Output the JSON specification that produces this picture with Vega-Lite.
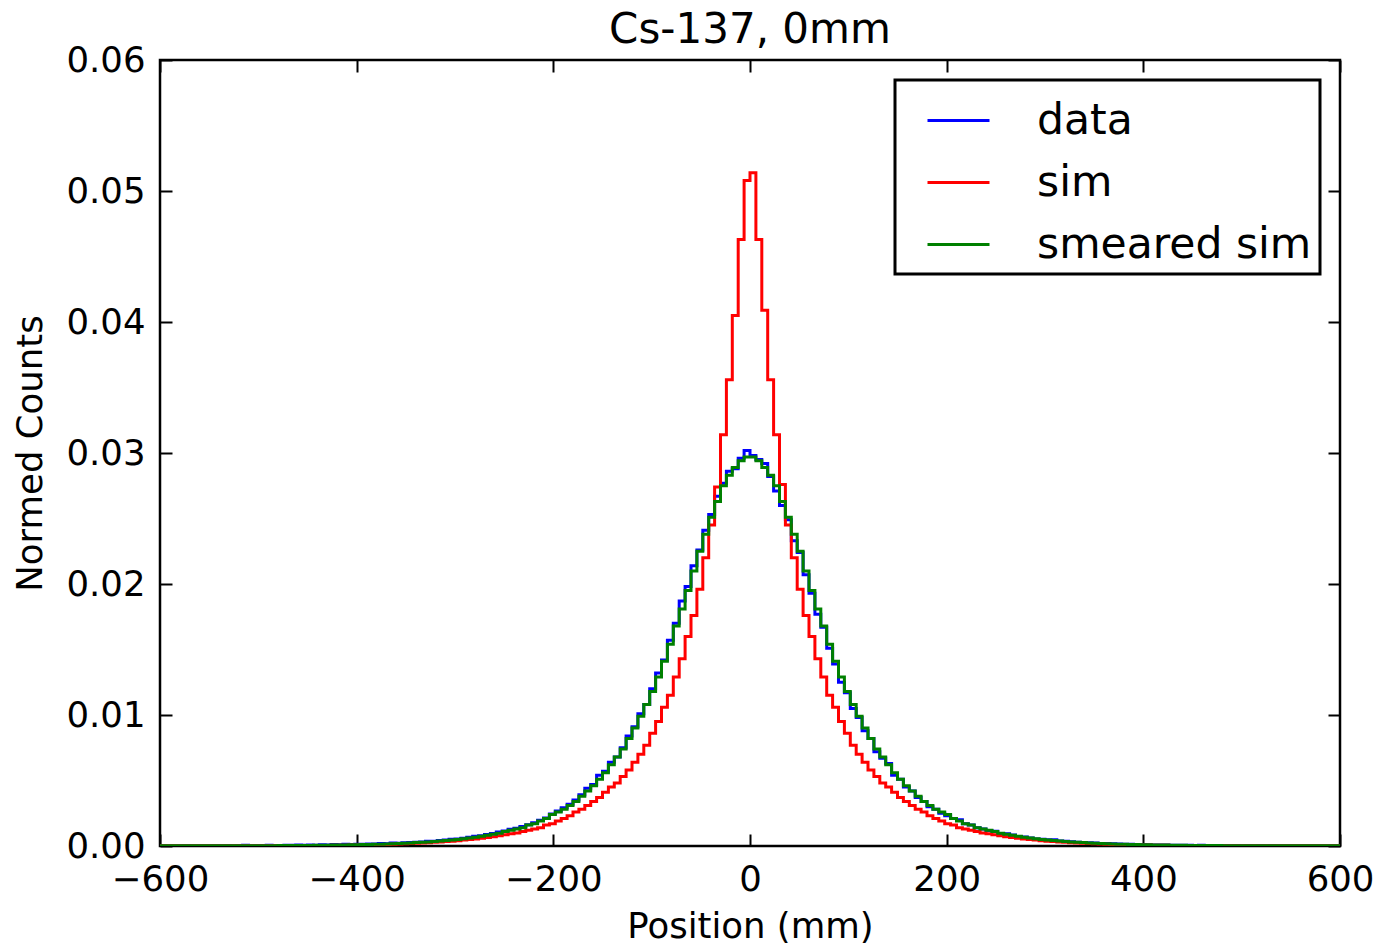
{
  "$schema": "https://vega.github.io/schema/vega-lite/v6.json",
  "width": 1180,
  "height": 786,
  "autosize": {"type": "none"},
  "padding": {"left": 160, "top": 60, "right": 38, "bottom": 100},
  "background": "white",
  "title": {"text": "Cs-137, 0mm", "fontSize": 42, "font": "DejaVu Sans", "fontWeight": "normal", "color": "black", "baseline": "alphabetic", "offset": 16, "dy": 58},
  "config": {
    "font": "DejaVu Sans",
    "view": {"stroke": "black", "strokeWidth": 2.5},
    "legend": {
      "orient": "top-right", "offset": 20, "symbolType": "stroke", "symbolSize": 3844, "symbolStrokeWidth": 3,
      "labelFontSize": 42.5, "labelFont": "DejaVu Sans", "labelColor": "black", "strokeColor": "black", "strokeWidth": 3,
      "fillColor": "white", "padding": 8, "symbolOffset": 23, "labelOffset": 46, "rowPadding": 8, "labelLimit": 800, "cornerRadius": 0
    }
  },
  "data": {"values": [
    {"x": -600, "data": 0.00001, "sim": 0.00001, "smeared sim": 0.00001},
    {"x": -594, "data": 0.0, "sim": 0.00001, "smeared sim": 0.00001},
    {"x": -588, "data": 0.00002, "sim": 0.00001, "smeared sim": 0.00001},
    {"x": -582, "data": 0.00001, "sim": 0.00001, "smeared sim": 0.00001},
    {"x": -576, "data": 0.00003, "sim": 0.00001, "smeared sim": 0.00001},
    {"x": -570, "data": 0.00001, "sim": 0.00001, "smeared sim": 0.00001},
    {"x": -564, "data": 0.00002, "sim": 0.00001, "smeared sim": 0.00001},
    {"x": -558, "data": 0.00002, "sim": 0.00001, "smeared sim": 0.00001},
    {"x": -552, "data": 0.00001, "sim": 0.00001, "smeared sim": 0.00001},
    {"x": -546, "data": 0.00003, "sim": 0.00001, "smeared sim": 0.00001},
    {"x": -540, "data": 0.00002, "sim": 0.00002, "smeared sim": 0.00002},
    {"x": -534, "data": 0.00004, "sim": 0.00002, "smeared sim": 0.00002},
    {"x": -528, "data": 0.00002, "sim": 0.00002, "smeared sim": 0.00002},
    {"x": -522, "data": 0.00003, "sim": 0.00002, "smeared sim": 0.00002},
    {"x": -516, "data": 0.00005, "sim": 0.00002, "smeared sim": 0.00002},
    {"x": -510, "data": 0.00002, "sim": 0.00002, "smeared sim": 0.00002},
    {"x": -504, "data": 0.00004, "sim": 0.00002, "smeared sim": 0.00002},
    {"x": -498, "data": 0.00003, "sim": 0.00002, "smeared sim": 0.00002},
    {"x": -492, "data": 0.00006, "sim": 0.00002, "smeared sim": 0.00002},
    {"x": -486, "data": 0.00004, "sim": 0.00002, "smeared sim": 0.00002},
    {"x": -480, "data": 0.00004, "sim": 0.00003, "smeared sim": 0.00003},
    {"x": -474, "data": 0.00006, "sim": 0.00003, "smeared sim": 0.00003},
    {"x": -468, "data": 0.00005, "sim": 0.00003, "smeared sim": 0.00003},
    {"x": -462, "data": 0.00007, "sim": 0.00003, "smeared sim": 0.00004},
    {"x": -456, "data": 0.00005, "sim": 0.00003, "smeared sim": 0.00004},
    {"x": -450, "data": 0.00008, "sim": 0.00003, "smeared sim": 0.00004},
    {"x": -444, "data": 0.00006, "sim": 0.00004, "smeared sim": 0.00005},
    {"x": -438, "data": 0.00009, "sim": 0.00004, "smeared sim": 0.00005},
    {"x": -432, "data": 0.00007, "sim": 0.00004, "smeared sim": 0.00006},
    {"x": -426, "data": 0.00011, "sim": 0.00005, "smeared sim": 0.00007},
    {"x": -420, "data": 0.00009, "sim": 0.00005, "smeared sim": 0.00007},
    {"x": -414, "data": 0.00013, "sim": 0.00006, "smeared sim": 0.00008},
    {"x": -408, "data": 0.00012, "sim": 0.00007, "smeared sim": 0.00009},
    {"x": -402, "data": 0.00014, "sim": 0.00007, "smeared sim": 0.0001},
    {"x": -396, "data": 0.00013, "sim": 0.00008, "smeared sim": 0.00011},
    {"x": -390, "data": 0.00016, "sim": 0.00009, "smeared sim": 0.00012},
    {"x": -384, "data": 0.00015, "sim": 0.0001, "smeared sim": 0.00013},
    {"x": -378, "data": 0.00019, "sim": 0.00011, "smeared sim": 0.00014},
    {"x": -372, "data": 0.00018, "sim": 0.00012, "smeared sim": 0.00016},
    {"x": -366, "data": 0.00022, "sim": 0.00013, "smeared sim": 0.00017},
    {"x": -360, "data": 0.00021, "sim": 0.00015, "smeared sim": 0.00019},
    {"x": -354, "data": 0.00025, "sim": 0.00017, "smeared sim": 0.00021},
    {"x": -348, "data": 0.00026, "sim": 0.00019, "smeared sim": 0.00023},
    {"x": -342, "data": 0.00029, "sim": 0.00021, "smeared sim": 0.00026},
    {"x": -336, "data": 0.00031, "sim": 0.00023, "smeared sim": 0.00028},
    {"x": -330, "data": 0.00036, "sim": 0.00025, "smeared sim": 0.00031},
    {"x": -324, "data": 0.00037, "sim": 0.00028, "smeared sim": 0.00034},
    {"x": -318, "data": 0.00042, "sim": 0.00031, "smeared sim": 0.00038},
    {"x": -312, "data": 0.00045, "sim": 0.00034, "smeared sim": 0.00042},
    {"x": -306, "data": 0.00051, "sim": 0.00037, "smeared sim": 0.00046},
    {"x": -300, "data": 0.00053, "sim": 0.00041, "smeared sim": 0.0005},
    {"x": -294, "data": 0.0006, "sim": 0.00045, "smeared sim": 0.00055},
    {"x": -288, "data": 0.00066, "sim": 0.00049, "smeared sim": 0.00061},
    {"x": -282, "data": 0.00074, "sim": 0.00054, "smeared sim": 0.00067},
    {"x": -276, "data": 0.00078, "sim": 0.00059, "smeared sim": 0.00074},
    {"x": -270, "data": 0.00088, "sim": 0.00065, "smeared sim": 0.00082},
    {"x": -264, "data": 0.00095, "sim": 0.00071, "smeared sim": 0.0009},
    {"x": -258, "data": 0.00106, "sim": 0.00078, "smeared sim": 0.00098},
    {"x": -252, "data": 0.00115, "sim": 0.00085, "smeared sim": 0.0011},
    {"x": -246, "data": 0.00127, "sim": 0.00093, "smeared sim": 0.0012},
    {"x": -240, "data": 0.00136, "sim": 0.001, "smeared sim": 0.0013},
    {"x": -234, "data": 0.00148, "sim": 0.0011, "smeared sim": 0.0014},
    {"x": -228, "data": 0.00163, "sim": 0.0012, "smeared sim": 0.0016},
    {"x": -222, "data": 0.00178, "sim": 0.0013, "smeared sim": 0.0017},
    {"x": -216, "data": 0.00196, "sim": 0.0014, "smeared sim": 0.0019},
    {"x": -210, "data": 0.00214, "sim": 0.0016, "smeared sim": 0.0021},
    {"x": -204, "data": 0.00245, "sim": 0.0017, "smeared sim": 0.0024},
    {"x": -198, "data": 0.00268, "sim": 0.0019, "smeared sim": 0.0026},
    {"x": -192, "data": 0.00292, "sim": 0.0021, "smeared sim": 0.0028},
    {"x": -186, "data": 0.00318, "sim": 0.0023, "smeared sim": 0.0031},
    {"x": -180, "data": 0.00352, "sim": 0.0026, "smeared sim": 0.0034},
    {"x": -174, "data": 0.00392, "sim": 0.0028, "smeared sim": 0.0038},
    {"x": -168, "data": 0.0044, "sim": 0.0031, "smeared sim": 0.0042},
    {"x": -162, "data": 0.0047, "sim": 0.0034, "smeared sim": 0.0046},
    {"x": -156, "data": 0.0054, "sim": 0.0037, "smeared sim": 0.0051},
    {"x": -150, "data": 0.0057, "sim": 0.0041, "smeared sim": 0.0056},
    {"x": -144, "data": 0.0064, "sim": 0.0045, "smeared sim": 0.0062},
    {"x": -138, "data": 0.0068, "sim": 0.0048, "smeared sim": 0.0068},
    {"x": -132, "data": 0.0075, "sim": 0.0053, "smeared sim": 0.0074},
    {"x": -126, "data": 0.0084, "sim": 0.0058, "smeared sim": 0.0082},
    {"x": -120, "data": 0.0091, "sim": 0.0064, "smeared sim": 0.009},
    {"x": -114, "data": 0.0101, "sim": 0.007, "smeared sim": 0.0099},
    {"x": -108, "data": 0.0108, "sim": 0.0077, "smeared sim": 0.0108},
    {"x": -102, "data": 0.012, "sim": 0.0086, "smeared sim": 0.0118},
    {"x": -96, "data": 0.0132, "sim": 0.0095, "smeared sim": 0.0129},
    {"x": -90, "data": 0.0142, "sim": 0.0106, "smeared sim": 0.0141},
    {"x": -84, "data": 0.0157, "sim": 0.0115, "smeared sim": 0.0154},
    {"x": -78, "data": 0.017, "sim": 0.0129, "smeared sim": 0.0168},
    {"x": -72, "data": 0.0187, "sim": 0.0143, "smeared sim": 0.0181},
    {"x": -66, "data": 0.0198, "sim": 0.016, "smeared sim": 0.0195},
    {"x": -60, "data": 0.0214, "sim": 0.0176, "smeared sim": 0.021},
    {"x": -54, "data": 0.0226, "sim": 0.0196, "smeared sim": 0.0225},
    {"x": -48, "data": 0.0241, "sim": 0.022, "smeared sim": 0.0238},
    {"x": -42, "data": 0.0253, "sim": 0.0245, "smeared sim": 0.0251},
    {"x": -36, "data": 0.0267, "sim": 0.0274, "smeared sim": 0.0263},
    {"x": -30, "data": 0.0277, "sim": 0.0314, "smeared sim": 0.0275},
    {"x": -24, "data": 0.0286, "sim": 0.0356, "smeared sim": 0.0283},
    {"x": -18, "data": 0.0288, "sim": 0.0405, "smeared sim": 0.0289},
    {"x": -12, "data": 0.0296, "sim": 0.0463, "smeared sim": 0.0294},
    {"x": -6, "data": 0.0302, "sim": 0.0508, "smeared sim": 0.0297},
    {"x": 0, "data": 0.0298, "sim": 0.0514, "smeared sim": 0.0297},
    {"x": 6, "data": 0.0295, "sim": 0.0463, "smeared sim": 0.0294},
    {"x": 12, "data": 0.0292, "sim": 0.0409, "smeared sim": 0.0289},
    {"x": 18, "data": 0.0282, "sim": 0.0356, "smeared sim": 0.0283},
    {"x": 24, "data": 0.0271, "sim": 0.0314, "smeared sim": 0.0275},
    {"x": 30, "data": 0.026, "sim": 0.0276, "smeared sim": 0.0263},
    {"x": 36, "data": 0.0249, "sim": 0.0245, "smeared sim": 0.0251},
    {"x": 42, "data": 0.0233, "sim": 0.022, "smeared sim": 0.0238},
    {"x": 48, "data": 0.0224, "sim": 0.0196, "smeared sim": 0.0225},
    {"x": 54, "data": 0.0207, "sim": 0.0176, "smeared sim": 0.021},
    {"x": 60, "data": 0.0193, "sim": 0.016, "smeared sim": 0.0195},
    {"x": 66, "data": 0.0177, "sim": 0.0143, "smeared sim": 0.0181},
    {"x": 72, "data": 0.0167, "sim": 0.0129, "smeared sim": 0.0168},
    {"x": 78, "data": 0.0151, "sim": 0.0115, "smeared sim": 0.0154},
    {"x": 84, "data": 0.0139, "sim": 0.0106, "smeared sim": 0.0141},
    {"x": 90, "data": 0.0125, "sim": 0.0095, "smeared sim": 0.0129},
    {"x": 96, "data": 0.0117, "sim": 0.0086, "smeared sim": 0.0118},
    {"x": 102, "data": 0.0105, "sim": 0.0077, "smeared sim": 0.0108},
    {"x": 108, "data": 0.0098, "sim": 0.007, "smeared sim": 0.0099},
    {"x": 114, "data": 0.0088, "sim": 0.0064, "smeared sim": 0.009},
    {"x": 120, "data": 0.0082, "sim": 0.0058, "smeared sim": 0.0082},
    {"x": 126, "data": 0.0072, "sim": 0.0053, "smeared sim": 0.0074},
    {"x": 132, "data": 0.0067, "sim": 0.0048, "smeared sim": 0.0068},
    {"x": 138, "data": 0.0063, "sim": 0.0045, "smeared sim": 0.0062},
    {"x": 144, "data": 0.0054, "sim": 0.0041, "smeared sim": 0.0056},
    {"x": 150, "data": 0.0051, "sim": 0.0037, "smeared sim": 0.0051},
    {"x": 156, "data": 0.0045, "sim": 0.0034, "smeared sim": 0.0046},
    {"x": 162, "data": 0.0042, "sim": 0.0031, "smeared sim": 0.0042},
    {"x": 168, "data": 0.0037, "sim": 0.0028, "smeared sim": 0.0038},
    {"x": 174, "data": 0.0034, "sim": 0.0026, "smeared sim": 0.0034},
    {"x": 180, "data": 0.003, "sim": 0.0023, "smeared sim": 0.0031},
    {"x": 186, "data": 0.0028, "sim": 0.0021, "smeared sim": 0.0028},
    {"x": 192, "data": 0.0025, "sim": 0.0019, "smeared sim": 0.0026},
    {"x": 198, "data": 0.0023, "sim": 0.0017, "smeared sim": 0.0024},
    {"x": 204, "data": 0.0021, "sim": 0.0016, "smeared sim": 0.0021},
    {"x": 210, "data": 0.002, "sim": 0.0014, "smeared sim": 0.0019},
    {"x": 216, "data": 0.0017, "sim": 0.0013, "smeared sim": 0.0017},
    {"x": 222, "data": 0.0016, "sim": 0.0012, "smeared sim": 0.0016},
    {"x": 228, "data": 0.0014, "sim": 0.0011, "smeared sim": 0.0014},
    {"x": 234, "data": 0.0013, "sim": 0.001, "smeared sim": 0.0013},
    {"x": 240, "data": 0.00118, "sim": 0.00093, "smeared sim": 0.0012},
    {"x": 246, "data": 0.00112, "sim": 0.00085, "smeared sim": 0.0011},
    {"x": 252, "data": 0.00096, "sim": 0.00078, "smeared sim": 0.00098},
    {"x": 258, "data": 0.00094, "sim": 0.00071, "smeared sim": 0.0009},
    {"x": 264, "data": 0.00084, "sim": 0.00065, "smeared sim": 0.00082},
    {"x": 270, "data": 0.00073, "sim": 0.00059, "smeared sim": 0.00074},
    {"x": 276, "data": 0.00069, "sim": 0.00054, "smeared sim": 0.00067},
    {"x": 282, "data": 0.00062, "sim": 0.00049, "smeared sim": 0.00061},
    {"x": 288, "data": 0.00054, "sim": 0.00045, "smeared sim": 0.00055},
    {"x": 294, "data": 0.00052, "sim": 0.00041, "smeared sim": 0.0005},
    {"x": 300, "data": 0.00047, "sim": 0.00037, "smeared sim": 0.00046},
    {"x": 306, "data": 0.00048, "sim": 0.00034, "smeared sim": 0.00042},
    {"x": 312, "data": 0.00039, "sim": 0.00031, "smeared sim": 0.00038},
    {"x": 318, "data": 0.00036, "sim": 0.00028, "smeared sim": 0.00034},
    {"x": 324, "data": 0.00032, "sim": 0.00025, "smeared sim": 0.00031},
    {"x": 330, "data": 0.00029, "sim": 0.00023, "smeared sim": 0.00028},
    {"x": 336, "data": 0.00027, "sim": 0.00021, "smeared sim": 0.00026},
    {"x": 342, "data": 0.00024, "sim": 0.00019, "smeared sim": 0.00023},
    {"x": 348, "data": 0.00022, "sim": 0.00017, "smeared sim": 0.00021},
    {"x": 354, "data": 0.0002, "sim": 0.00015, "smeared sim": 0.00019},
    {"x": 360, "data": 0.00019, "sim": 0.00013, "smeared sim": 0.00017},
    {"x": 366, "data": 0.00018, "sim": 0.00012, "smeared sim": 0.00016},
    {"x": 372, "data": 0.00015, "sim": 0.00011, "smeared sim": 0.00014},
    {"x": 378, "data": 0.00014, "sim": 0.0001, "smeared sim": 0.00013},
    {"x": 384, "data": 0.00013, "sim": 0.00009, "smeared sim": 0.00012},
    {"x": 390, "data": 0.00011, "sim": 0.00008, "smeared sim": 0.00011},
    {"x": 396, "data": 0.00011, "sim": 0.00007, "smeared sim": 0.0001},
    {"x": 402, "data": 0.0001, "sim": 0.00007, "smeared sim": 0.00009},
    {"x": 408, "data": 0.00008, "sim": 0.00006, "smeared sim": 0.00008},
    {"x": 414, "data": 0.00008, "sim": 0.00005, "smeared sim": 0.00007},
    {"x": 420, "data": 0.00007, "sim": 0.00005, "smeared sim": 0.00007},
    {"x": 426, "data": 0.00006, "sim": 0.00004, "smeared sim": 0.00006},
    {"x": 432, "data": 0.00006, "sim": 0.00004, "smeared sim": 0.00005},
    {"x": 438, "data": 0.00005, "sim": 0.00004, "smeared sim": 0.00005},
    {"x": 444, "data": 0.00005, "sim": 0.00003, "smeared sim": 0.00004},
    {"x": 450, "data": 0.00004, "sim": 0.00003, "smeared sim": 0.00004},
    {"x": 456, "data": 0.00005, "sim": 0.00003, "smeared sim": 0.00004},
    {"x": 462, "data": 0.00003, "sim": 0.00003, "smeared sim": 0.00003},
    {"x": 468, "data": 0.00004, "sim": 0.00003, "smeared sim": 0.00003},
    {"x": 474, "data": 0.00003, "sim": 0.00003, "smeared sim": 0.00003},
    {"x": 480, "data": 0.00003, "sim": 0.00002, "smeared sim": 0.00002},
    {"x": 486, "data": 0.00002, "sim": 0.00002, "smeared sim": 0.00002},
    {"x": 492, "data": 0.00003, "sim": 0.00002, "smeared sim": 0.00002},
    {"x": 498, "data": 0.00002, "sim": 0.00002, "smeared sim": 0.00002},
    {"x": 504, "data": 0.00003, "sim": 0.00002, "smeared sim": 0.00002},
    {"x": 510, "data": 0.00002, "sim": 0.00002, "smeared sim": 0.00002},
    {"x": 516, "data": 0.00003, "sim": 0.00002, "smeared sim": 0.00002},
    {"x": 522, "data": 0.00002, "sim": 0.00002, "smeared sim": 0.00002},
    {"x": 528, "data": 0.00003, "sim": 0.00002, "smeared sim": 0.00002},
    {"x": 534, "data": 0.00002, "sim": 0.00002, "smeared sim": 0.00002},
    {"x": 540, "data": 0.00002, "sim": 0.00001, "smeared sim": 0.00001},
    {"x": 546, "data": 0.00001, "sim": 0.00001, "smeared sim": 0.00001},
    {"x": 552, "data": 0.00002, "sim": 0.00001, "smeared sim": 0.00001},
    {"x": 558, "data": 0.00001, "sim": 0.00001, "smeared sim": 0.00001},
    {"x": 564, "data": 0.00002, "sim": 0.00001, "smeared sim": 0.00001},
    {"x": 570, "data": 0.00001, "sim": 0.00001, "smeared sim": 0.00001},
    {"x": 576, "data": 0.00002, "sim": 0.00001, "smeared sim": 0.00001},
    {"x": 582, "data": 0.00001, "sim": 0.00001, "smeared sim": 0.00001},
    {"x": 588, "data": 0.00001, "sim": 0.00001, "smeared sim": 0.00001},
    {"x": 594, "data": 0.00001, "sim": 0.00001, "smeared sim": 0.00001},
    {"x": 600, "data": 0.00001, "sim": 0.00001, "smeared sim": 0.00001}
  ]},
  "transform": [{"fold": ["data", "sim", "smeared sim"], "as": ["series", "value"]}],
  "layer": [
    {
      "mark": {"type": "line", "interpolate": "step-after", "strokeWidth": 3, "clip": true},
      "encoding": {
        "x": {"field": "x", "type": "quantitative", "scale": {"domain": [-600, 600], "nice": false},
          "axis": {"orient": "bottom", "values": [-600, -400, -200, 0, 200, 400, 600], "title": "Position (mm)", "titleFontSize": 35.5, "titleFontWeight": "normal", "titleColor": "black", "titlePadding": 12,
            "labelFontSize": 35.5, "labelColor": "black", "labelPadding": 28, "tickSize": -12, "tickWidth": 2, "tickColor": "black", "domain": false, "grid": false, "labelFlush": false, "labelOverlap": false}},
        "y": {"field": "value", "type": "quantitative", "scale": {"domain": [0, 0.06], "nice": false},
          "axis": {"orient": "left", "values": [0, 0.01, 0.02, 0.03, 0.04, 0.05, 0.06], "format": ".2f", "title": "Normed Counts", "titleFontSize": 35.5, "titleFontWeight": "normal", "titleColor": "black", "titlePadding": 17,
            "labelFontSize": 35.5, "labelColor": "black", "labelPadding": 27, "tickSize": -12, "tickWidth": 2, "tickColor": "black", "domain": false, "grid": false, "labelFlush": false, "labelOverlap": false}},
        "color": {"field": "series", "type": "nominal", "scale": {"domain": ["data", "sim", "smeared sim"], "range": ["#0000ff", "#ff0000", "#008000"]}, "legend": {"title": null}}
      }
    },
    {
      "mark": {"type": "line", "opacity": 0},
      "encoding": {
        "x": {"field": "x", "type": "quantitative", "axis": {"orient": "top", "values": [-600, -400, -200, 0, 200, 400, 600], "labels": false, "title": null, "tickSize": -12, "tickWidth": 2, "tickColor": "black", "domain": false, "grid": false}},
        "y": {"field": "value", "type": "quantitative", "axis": {"orient": "right", "values": [0, 0.01, 0.02, 0.03, 0.04, 0.05, 0.06], "labels": false, "title": null, "tickSize": -12, "tickWidth": 2, "tickColor": "black", "domain": false, "grid": false}}
      }
    }
  ],
  "resolve": {"axis": {"x": "independent", "y": "independent"}}
}
